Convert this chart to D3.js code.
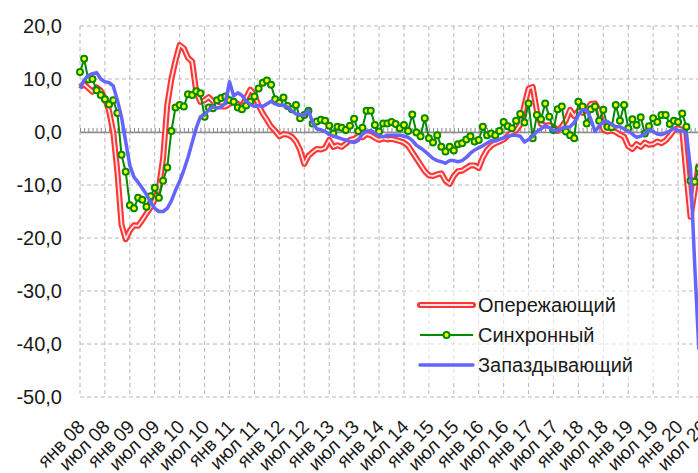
<!DOCTYPE html>
<html>
<head>
<meta charset="utf-8">
<script src="https://cdn.jsdelivr.net/npm/d3@7"></script>
<style>
  body { margin: 0; background: #fff; }
  text { font-family: "Liberation Sans", Arial, sans-serif; fill: #1a1a1a; }
</style>
</head>
<body>
<div id="chart"></div>
<script>
// tick labels, one per 6 months starting Jan 2008
var tickLabels = ["янв 08","июл 08","янв 09","июл 09","янв 10","июл 10","янв 11","июл 11",
  "янв 12","июл 12","янв 13","июл 13","янв 14","июл 14","янв 15","июл 15","янв 16","июл 16",
  "янв 17","июл 17","янв 18","июл 18","янв 19","июл 19","янв 20","июл 20"];
var yTicks = [20, 10, 0, -10, -20, -30, -40, -50];
var seriesNames = ["Опережающий", "Синхронный", "Запаздывающий"];

// monthly values, Jan 2008 .. Jun 2020
var lead = [8.5, 9.0, 8.3, 7.6, 8.4, 7.8, 6.3, 4.0, 0.0, -7.5,
  -17.5, -20.2, -18.6, -17.6, -17.7, -16.6, -15.4, -14.2, -12.8, -10.5,
  -5.0, 5.0, 10.0, 13.5, 16.4, 15.8, 14.0, 13.3, 7.5, 5.7,
  6.0, 6.6, 5.8, 5.0, 4.8, 4.8, 5.3, 5.7, 5.3, 4.8,
  6.5, 8.0, 7.0, 5.0, 3.5, 2.3, 1.0, 0.2, -0.8, -0.4,
  -0.5, -0.9, -1.8, -3.4, -6.0, -4.5, -3.8, -3.2, -3.3, -3.0,
  -1.5, -2.8, -2.5, -2.8, -2.2, -1.5, -1.3, -0.8, -1.0, -0.4,
  -0.6, -1.1, -1.5, -1.2, -1.4, -1.3, -1.5, -1.7, -2.0, -2.6,
  -3.8, -5.0, -6.2, -7.4, -8.2, -8.3, -8.0, -7.8, -9.2, -9.8,
  -8.3, -7.4, -7.3, -6.8, -6.3, -6.3, -6.8, -4.8, -3.4, -2.6,
  -2.1, -1.8, -1.4, -0.7, 0.0, 0.3, 1.4, 5.0, 8.2, 8.5,
  4.0, 1.5, 1.2, 1.3, 1.0, 0.2, 1.0, 2.2, 4.2, 3.0,
  4.0, 3.6, 4.3, 5.3, 5.4, 4.0, 0.5, 0.1, 0.3, 0.0,
  -0.5, -0.9, -2.7, -3.2, -2.3, -2.8, -2.0, -2.4, -2.3, -1.8,
  -2.1, -1.6, -0.7, 0.4, 0.7, 0.4, -8.0, -16.0, -11.0, -6.0];

var sync = [11.3, 13.8, 9.9, 10.0, 7.9, 7.0, 6.2, 5.2, 6.0, 3.6,
  -4.3, -7.5, -13.8, -14.4, -12.4, -12.8, -14.1, -12.1, -10.5, -12.4,
  -9.2, -6.7, 0.2, 4.6, 5.1, 4.8, 7.1, 7.0, 7.7, 7.3,
  2.9, 4.6, 4.5, 6.0, 6.4, 6.7, 6.0, 5.7, 4.6, 4.3,
  5.0, 5.7, 6.7, 8.2, 9.3, 9.7, 8.9, 6.2, 5.5, 6.5,
  4.9, 4.3, 5.1, 2.6, 3.2, 4.0, 1.6, 2.0, 2.3, 2.1,
  1.2, -0.3, 1.0, 0.8, 0.4, 1.2, 2.5, 0.2, 0.8, 4.0,
  4.0, 1.3, 0.1, 1.6, 1.6, 1.9, 1.5, 0.7, 1.3, 0.2,
  3.3, -0.1, -0.8, 2.6, -1.2, -2.0, -0.6, -2.8, -3.7, -2.8,
  -3.5, -2.3, -2.1, -1.4, -0.8, -1.8, -1.5, 1.0, -0.6, -0.3,
  -0.6, 0.2, 1.9, 1.1, 0.7, 2.1, 3.4, 1.8, 5.4, -1.2,
  3.2, 2.4, 5.4, 2.9, 0.4, 4.3, 4.8, 0.1, -0.6, -1.2,
  5.7, 4.8, 1.6, 4.3, 4.8, 2.1, 4.2, 1.0, 0.9, 5.1,
  2.1, 5.1, 0.7, 2.4, 1.3, 2.8, -0.3, 1.1, 2.6, 1.9,
  3.2, 3.2, 1.5, 2.1, 1.9, 3.5, 1.0, -9.2, -9.4, -6.9];

var lag = [8.2, 9.8, 10.7, 11.0, 11.2, 10.0, 9.5, 9.3, 8.7, 6.0,
  2.8, -1.8, -6.3, -8.5, -9.5, -10.6, -11.8, -13.2, -14.4, -15.0,
  -15.0, -14.4, -13.0, -11.0, -9.3, -7.2, -4.8, -2.0, 0.8, 2.9,
  3.2, 4.2, 4.8, 4.5, 4.7, 5.5, 9.5, 6.8, 7.4, 6.9,
  5.8, 5.2, 4.8, 5.0, 4.8, 5.3, 5.8, 5.3, 5.1, 5.0,
  4.7, 4.0, 3.4, 3.2, 3.2, 4.1, 1.8, 0.6, 0.4, 0.1,
  -0.5, -0.8, -1.0, -1.3, -1.5, -1.8, -2.0, -1.6, -0.3, 0.1,
  0.3, -0.2, -0.7, -0.9, -0.6, -0.6, -0.6, -0.6, -0.8, -1.0,
  -1.6, -2.5, -3.0, -3.6, -4.3, -5.0, -5.4, -5.6, -5.9, -5.4,
  -5.4, -5.6, -5.4, -4.8, -4.0, -3.4, -3.0, -2.6, -2.1, -1.6,
  -1.7, -1.4, -1.1, -0.8, -0.6, -0.6, -0.8, -1.9, -1.4, -0.8,
  0.1, 0.6, 1.2, 0.8, 0.3, 0.3, 0.7, 0.9, 1.0, 1.8,
  3.2, 4.2, 4.2, 2.4, 0.1, 1.1, 2.0, 2.0, 1.4, 1.0,
  1.0, 0.6, 0.2, -0.4, -1.0, -0.8, -0.3, 0.5, 0.1, -0.4,
  -0.5, -0.2, 0.2, 0.7, 0.3, 0.2, -0.2, -7.0, -25.0, -41.0];

var width = 698, height = 473;

// category axis, one step per month (Jul 2020 = 150)
var x = d3.scaleLinear().domain([0, 150]).range([80, 703]);
var y = d3.scaleLinear().domain([-50, 20]).range([397, 26]);

var ruLocale = d3.formatLocale({decimal: ",", thousands: " ", grouping: [3], currency: ["", ""], minus: "-"});
var fmt = ruLocale.format(".1f");

var svg = d3.select("#chart").append("svg")
  .attr("width", width)
  .attr("height", height);

// grid
var gridColor = "#b8b8b8";
svg.append("g").selectAll("line")
  .data(yTicks)
  .enter().append("line")
  .attr("x1", x(0)).attr("x2", x(150))
  .attr("y1", function(d) { return y(d); })
  .attr("y2", function(d) { return y(d); })
  .style("stroke", gridColor)
  .style("stroke-dasharray", "4,3");

svg.append("g").selectAll("line")
  .data(tickLabels)
  .enter().append("line")
  .attr("x1", function(d, i) { return x(i * 6); })
  .attr("x2", function(d, i) { return x(i * 6); })
  .attr("y1", y(20)).attr("y2", y(-50))
  .style("stroke", gridColor)
  .style("stroke-dasharray", "4,3");

// y labels
svg.append("g").selectAll("text")
  .data(yTicks)
  .enter().append("text")
  .attr("x", 62)
  .attr("y", function(d) { return y(d); })
  .attr("dy", "0.36em")
  .attr("text-anchor", "end")
  .style("font-size", "20px")
  .text(function(d) { return fmt(d); });

// x labels
svg.append("g").selectAll("text")
  .data(tickLabels)
  .enter().append("text")
  .attr("text-anchor", "end")
  .attr("transform", function(d, i) {
    return "translate(" + (x(i * 6) + 6) + ",428) rotate(-45)";
  })
  .style("font-size", "19px")
  .text(function(d) { return d; });

// zero line with monthly ticks
var zeroAxis = svg.append("g")
  .attr("transform", "translate(0," + y(0) + ")")
  .call(d3.axisTop(x).tickValues(d3.range(0, 151)).tickSize(4).tickSizeOuter(0).tickFormat(""));
zeroAxis.select(".domain").style("stroke", "#8a8a8a").style("stroke-width", 1.5);
zeroAxis.selectAll(".tick line").style("stroke", "#8a8a8a");

var line = d3.line()
  .x(function(d, i) { return x(i); })
  .y(function(d) { return y(d); });

// Опережающий - double red line
svg.append("path")
  .attr("d", line(lead))
  .style("fill", "none")
  .style("stroke", "#ff3535")
  .style("stroke-width", 6)
  .style("stroke-linejoin", "round");
svg.append("path")
  .attr("d", line(lead))
  .style("fill", "none")
  .style("stroke", "#ffe4e4")
  .style("stroke-width", 1.8)
  .style("stroke-linejoin", "round");

// Синхронный
svg.append("path")
  .attr("d", line(sync))
  .style("fill", "none")
  .style("stroke", "#008a00")
  .style("stroke-width", 2);
svg.append("g").selectAll("circle")
  .data(sync)
  .enter().append("circle")
  .attr("cx", function(d, i) { return x(i); })
  .attr("cy", function(d) { return y(d); })
  .attr("r", 3)
  .style("fill", "#ffff00")
  .style("stroke", "#008a00")
  .style("stroke-width", 2);

// Запаздывающий
svg.append("path")
  .attr("d", line(lag))
  .style("fill", "none")
  .style("stroke", "#6464ff")
  .style("stroke-width", 3.5)
  .style("stroke-linejoin", "round");

// legend
var legend = svg.append("g");
legend.append("rect")
  .attr("x", 408).attr("y", 288)
  .attr("width", 270).attr("height", 92)
  .style("fill", "#fff")
  .style("opacity", 0.6);

var rowY = [305, 335, 365];
var lg = legend.selectAll("g.item")
  .data(seriesNames)
  .enter().append("g")
  .attr("class", "item")
  .attr("transform", function(d, i) { return "translate(0," + rowY[i] + ")"; });

lg.append("text")
  .attr("x", 478)
  .attr("dy", "0.36em")
  .style("font-size", "20px")
  .text(function(d) { return d; });

var l0 = d3.select(lg.nodes()[0]);
l0.append("line").attr("x1", 420).attr("x2", 473)
  .style("stroke", "#ff3535").style("stroke-width", 6).style("stroke-linecap", "round");
l0.append("line").attr("x1", 420).attr("x2", 473)
  .style("stroke", "#ffe4e4").style("stroke-width", 1.8);

var l1 = d3.select(lg.nodes()[1]);
l1.append("line").attr("x1", 420).attr("x2", 473)
  .style("stroke", "#008a00").style("stroke-width", 2);
l1.append("circle").attr("cx", 446.5).attr("r", 3)
  .style("fill", "#ffff00").style("stroke", "#008a00").style("stroke-width", 2);

var l2 = d3.select(lg.nodes()[2]);
l2.append("line").attr("x1", 420).attr("x2", 473)
  .style("stroke", "#6464ff").style("stroke-width", 3.5).style("stroke-linecap", "round");
</script>
</body>
</html>
